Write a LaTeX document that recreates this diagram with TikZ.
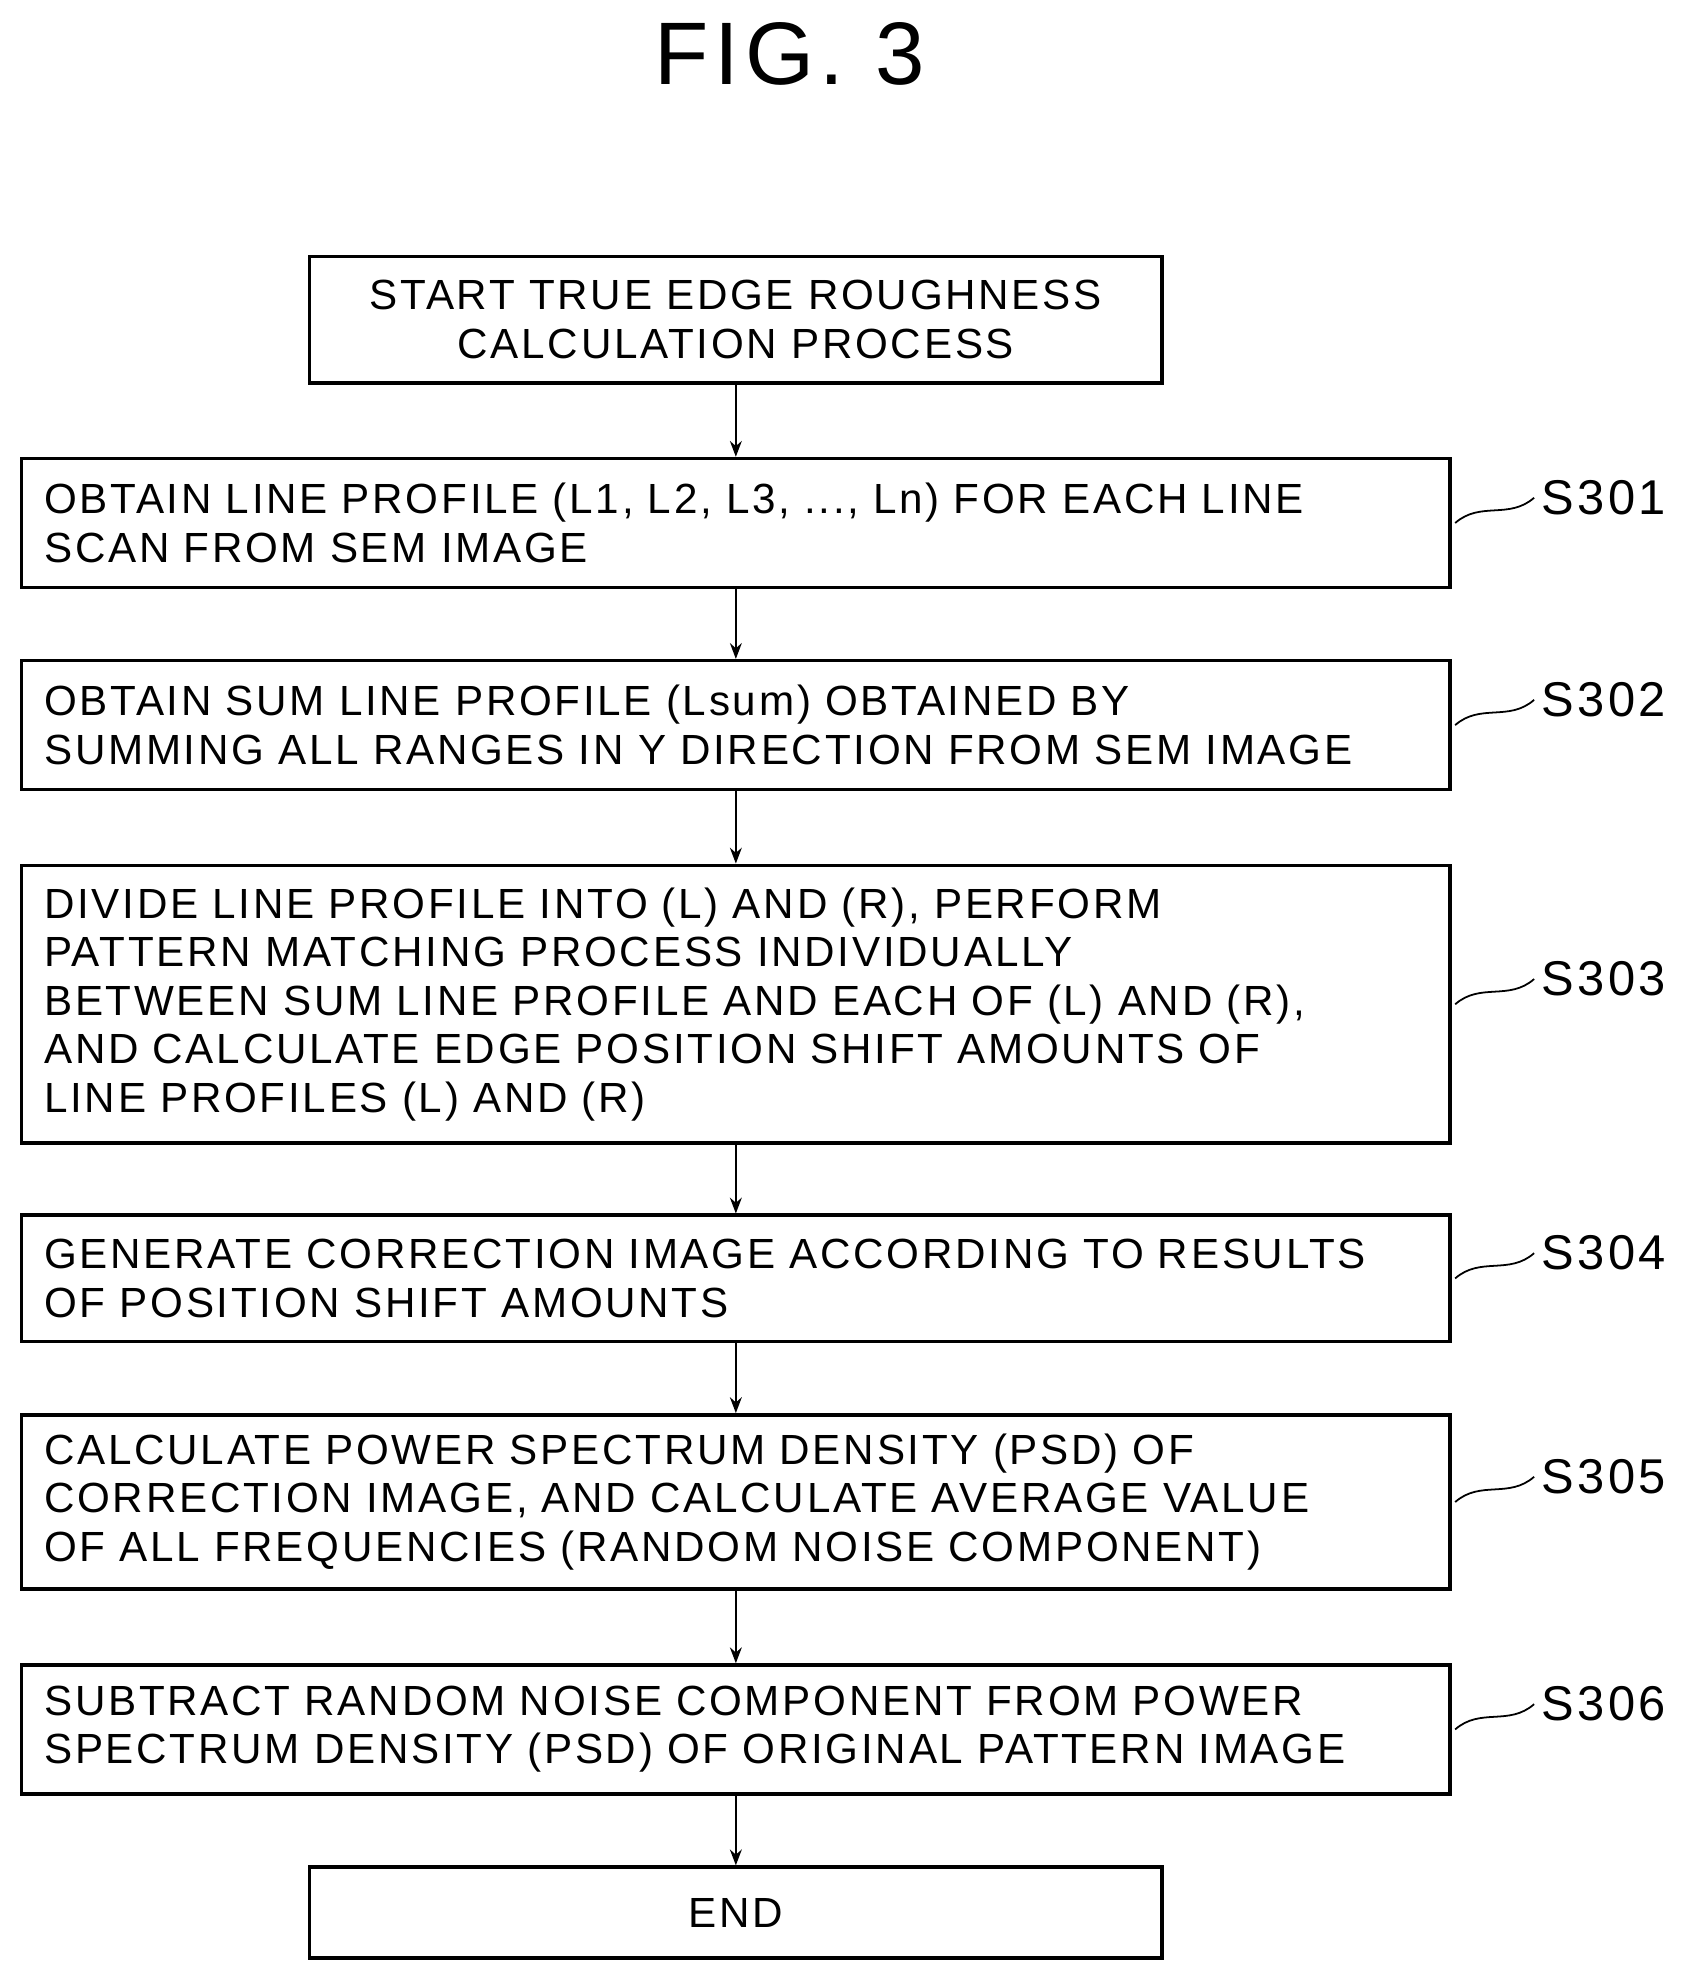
\documentclass[tikz,border=0pt]{standalone}
\usepackage{fontspec}
\setmainfont{Liberation Sans}[LetterSpace=6.5]
\usetikzlibrary{arrows.meta,positioning}

\begin{document}
\begin{tikzpicture}[
  procstep/.style={draw, line width=1.6pt, minimum width=22.62cm, text width=21.9cm,
               align=left, inner sep=0pt, font=\fontsize{19}{21.8}\selectfont},
  termbox/.style={draw, line width=1.6pt, minimum width=13.5cm, text width=13cm,
               align=center, inner sep=0pt, font=\fontsize{19}{21.8}\selectfont},
  arr/.style={-{Stealth[length=2.5mm]}, line width=1pt},
  steplabel/.style={font=\fontsize{22}{24}\selectfont, anchor=west}
]
  \useasboundingbox (0,0) rectangle (26.6,-31.3);
  \node[font=\fontsize{40}{44}\selectfont] (title) at (12.5,-0.85) {FIG. 3};

  \node[termbox, minimum height=2.0cm] (start) at (11.65,-5.06)
    {START TRUE EDGE ROUGHNESS\\CALCULATION PROCESS};
  \node[procstep, minimum height=2.04cm] (s1) at (11.65,-8.28)
    {OBTAIN LINE PROFILE (L1, L2, L3, ..., Ln) FOR EACH LINE\\SCAN FROM SEM IMAGE};
  \node[procstep, minimum height=2.04cm] (s2) at (11.65,-11.48)
    {OBTAIN SUM LINE PROFILE (Lsum) OBTAINED BY\\SUMMING ALL RANGES IN Y DIRECTION FROM SEM IMAGE};
  \node[procstep, minimum height=4.4cm] (s3) at (11.65,-15.9)
    {DIVIDE LINE PROFILE INTO (L) AND (R), PERFORM\\PATTERN MATCHING PROCESS INDIVIDUALLY\\BETWEEN SUM LINE PROFILE AND EACH OF (L) AND (R),\\AND CALCULATE EDGE POSITION SHIFT AMOUNTS OF\\LINE PROFILES (L) AND (R)};
  \node[procstep, minimum height=2.0cm] (s4) at (11.65,-20.24)
    {GENERATE CORRECTION IMAGE ACCORDING TO RESULTS\\OF POSITION SHIFT AMOUNTS};
  \node[procstep, minimum height=2.76cm] (s5) at (11.65,-23.78)
    {CALCULATE POWER SPECTRUM DENSITY (PSD) OF\\CORRECTION IMAGE, AND CALCULATE AVERAGE VALUE\\OF ALL FREQUENCIES (RANDOM NOISE COMPONENT)};
  \node[procstep, minimum height=2.04cm] (s6) at (11.65,-27.38)
    {SUBTRACT RANDOM NOISE COMPONENT FROM POWER\\SPECTRUM DENSITY (PSD) OF ORIGINAL PATTERN IMAGE};
  \node[termbox, minimum height=1.44cm] (end) at (11.65,-30.28) {END};

  \draw[arr] (start) -- (s1);
  \draw[arr] (s1) -- (s2);
  \draw[arr] (s2) -- (s3);
  \draw[arr] (s3) -- (s4);
  \draw[arr] (s4) -- (s5);
  \draw[arr] (s5) -- (s6);
  \draw[arr] (s6) -- (end);

  % step labels with wavy leaders
  \foreach \s/\t in {s1/S301, s2/S302, s3/S303, s4/S304, s5/S305, s6/S306} {
    \node[steplabel] (\s lab) at ([xshift=1.3cm, yshift=0.4cm]\s.east) {\t};
    \draw[line width=0.8pt] ([xshift=0.05cm]\s.east) .. controls +(0.4,0.35) and +(-0.4,-0.35) .. (\s lab.west);
  }
\end{tikzpicture}
\end{document}
